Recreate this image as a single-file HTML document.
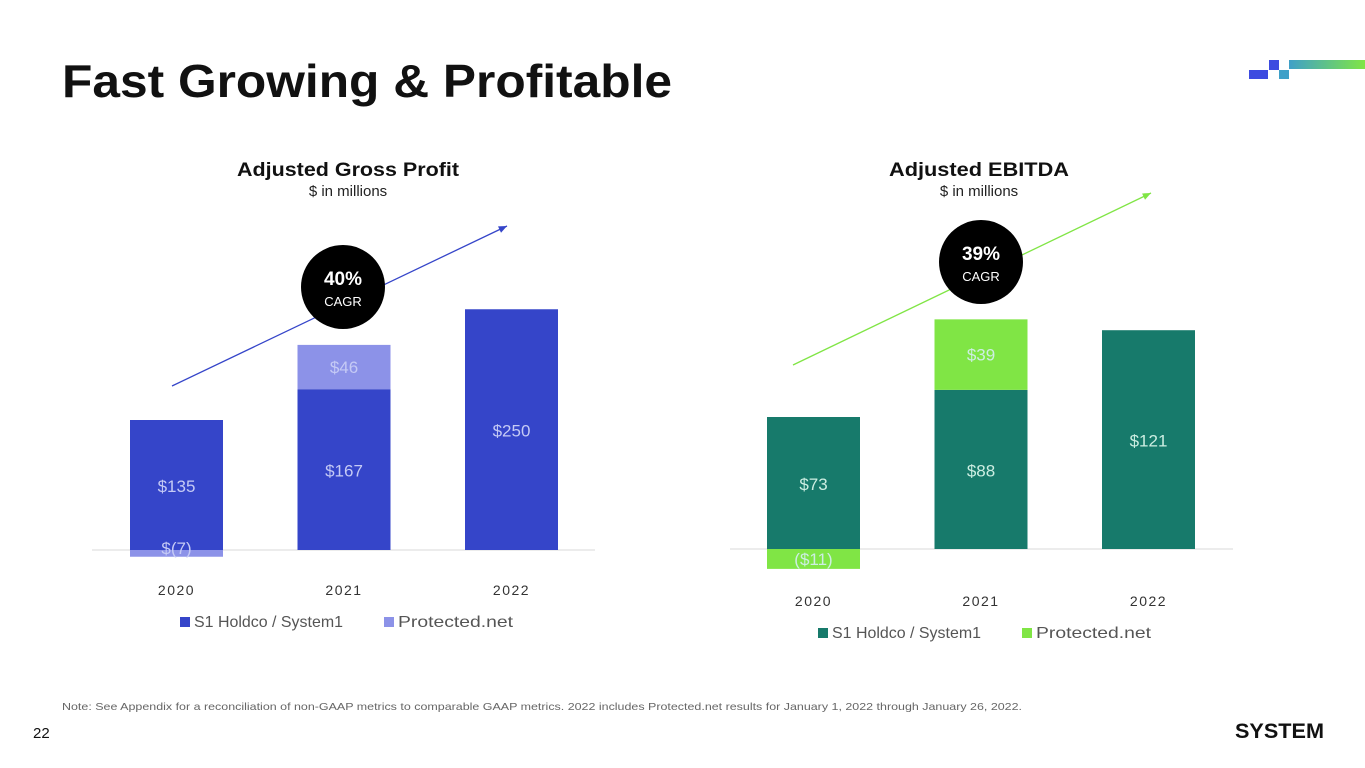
<!DOCTYPE html>
<html><head><meta charset="utf-8"><style>
html,body{margin:0;padding:0;background:#fff;}
svg{display:block;font-family:"Liberation Sans",sans-serif;}
</style></head><body>
<svg id="s" width="1365" height="768" viewBox="0 0 1365 768">
<text x="62" y="97" font-size="46" font-weight="bold" fill="#111" textLength="610" lengthAdjust="spacingAndGlyphs">Fast Growing &amp; Profitable</text>
<g>
<rect x="1249" y="70" width="19" height="9" fill="#3d4be0"/>
<rect x="1269" y="60" width="10" height="10" fill="#3d4be0"/>
<rect x="1279" y="70" width="10" height="9" fill="#3fa0c8"/>
<defs><linearGradient id="g1" x1="0" x2="1"><stop offset="0" stop-color="#3fa0c8"/><stop offset="1" stop-color="#80e545"/></linearGradient></defs>
<rect x="1289" y="60" width="76" height="9" fill="url(#g1)"/>
</g>
<text x="348" y="176" font-size="19" font-weight="bold" text-anchor="middle" fill="#111" textLength="222" lengthAdjust="spacingAndGlyphs">Adjusted Gross Profit</text>
<text x="348" y="196" font-size="15" text-anchor="middle" fill="#222">$ in millions</text>
<text x="979" y="176" font-size="19" font-weight="bold" text-anchor="middle" fill="#111" textLength="180" lengthAdjust="spacingAndGlyphs">Adjusted EBITDA</text>
<text x="979" y="196" font-size="15" text-anchor="middle" fill="#222">$ in millions</text>
<g id="c1"></g><g id="c2"></g>
<text x="62" y="710" font-size="10.5" fill="#666" textLength="960" lengthAdjust="spacingAndGlyphs">Note: See Appendix for a reconciliation of non-GAAP metrics to comparable GAAP metrics. 2022 includes Protected.net results for January 1, 2022 through January 26, 2022.</text>
<text x="33" y="738" font-size="15" fill="#111">22</text>
<text x="1235" y="738" font-size="21" font-weight="bold" fill="#111" textLength="89" lengthAdjust="spacingAndGlyphs">SYSTEM</text>
</svg>
<script>
const years = ["2020","2021","2022"];
const gpCore = [135,167,250];
const gpProt = [-7,46,0];
const gpCoreLabels = ["$135","$167","$250"];
const gpProtLabels = ["$(7)","$46",""];
const ebCore = [73,88,121];
const ebProt = [-11,39,0];
const ebCoreLabels = ["$73","$88","$121"];
const ebProtLabels = ["($11)","$39",""];
const NS="http://www.w3.org/2000/svg";
function mk(p,t,a){const e=document.createElementNS(NS,t);for(const k in a)e.setAttribute(k,a[k]);p.appendChild(e);return e;}
function chart(g,o){
  const y=v=>o.base-v*o.scale;
  const xC=i=>o.x0+i*o.step;
  const ax=mk(g,'line',{x1:o.ax0,x2:o.ax1,y1:o.base,y2:o.base,stroke:'#d8d8d8','stroke-width':1});
  
  
  years.forEach((yr,i)=>{
    const c=o.core[i], p=o.prot[i];
    const r=mk(g,'rect',{x:xC(i)-46.5,y:y(c),width:93,height:c*o.scale,fill:o.c1});
    
    
    if(p!==0){
      const top=p>0?y(c+p):o.base, h=Math.abs(p)*o.scale;
      const r2=mk(g,'rect',{x:xC(i)-46.5,y:top,width:93,height:h,fill:o.c2});
      
      
      const t2=mk(g,'text',{x:xC(i),y:p>0?top+h/2+6:o.base+o.negOff,'text-anchor':'middle','font-size':17,fill:o.tc});
      t2.textContent=o.pl[i];
      
      
    }
    const t=mk(g,'text',{x:xC(i),y:(y(c)+o.base)/2+7,'text-anchor':'middle','font-size':17,fill:o.tc});
    t.textContent=o.cl[i];
    
    
    const yl=mk(g,'text',{x:xC(i),y:o.yearY,'text-anchor':'middle','font-size':14,fill:'#333','letter-spacing':'1.5'});
    yl.textContent=yr;
    
    
  });
  const ar=mk(g,'line',{x1:o.a[0],y1:o.a[1],x2:o.a[2],y2:o.a[3],stroke:o.ac,'stroke-width':1.3});
  
  
  const ang=Math.atan2(o.a[3]-o.a[1],o.a[2]-o.a[0]);
  const hx=o.a[2],hy=o.a[3];
  const pts=[[hx,hy],[hx-9*Math.cos(ang-0.4),hy-9*Math.sin(ang-0.4)],[hx-9*Math.cos(ang+0.4),hy-9*Math.sin(ang+0.4)]].map(p=>p.join(',')).join(' ');
  const ah=mk(g,'polygon',{points:pts,fill:o.ac});
  
  
  const cc=mk(g,'circle',{cx:o.cc[0],cy:o.cc[1],r:42,fill:'#000'});
  
  
  const ct=mk(g,'text',{x:o.cc[0],y:o.cc[1]-2,'text-anchor':'middle','font-size':19,'font-weight':'bold',fill:'#fff'});
  ct.textContent=o.cagr;
  
  
  const cl=mk(g,'text',{x:o.cc[0],y:o.cc[1]+19,'text-anchor':'middle','font-size':13,fill:'#fff'});
  cl.textContent='CAGR';
  
  
  const lx=o.legX;
  const s1=mk(g,'rect',{x:lx,y:o.legY-10,width:10,height:10,fill:o.c1});
  
  
  const l1=mk(g,'text',{x:lx+14,y:o.legY,'font-size':16,fill:'#555',textLength:149,lengthAdjust:'spacingAndGlyphs'});
  l1.textContent='S1 Holdco / System1';
  
  
  const s2=mk(g,'rect',{x:lx+204,y:o.legY-10,width:10,height:10,fill:o.c2});
  
  
  const l2=mk(g,'text',{x:lx+218,y:o.legY,'font-size':16,fill:'#555',textLength:115,lengthAdjust:'spacingAndGlyphs'});
  l2.textContent='Protected.net';
  
  
}
chart(document.getElementById('c1'),{core:gpCore,prot:gpProt,cl:gpCoreLabels,pl:gpProtLabels,base:550,scale:130/135,x0:176.5,step:167.5,ax0:92,ax1:595,c1:'#3545c9',c2:'#8c92e8',tc:'#c5caf5',negOff:4,yearY:595,a:[172,386,507,226],ac:'#3545c9',cc:[343,287],cagr:'40%',legX:180,legY:627});
chart(document.getElementById('c2'),{core:ebCore,prot:ebProt,cl:ebCoreLabels,pl:ebProtLabels,base:549,scale:132/73,x0:813.5,step:167.5,ax0:730,ax1:1233,c1:'#177a6b',c2:'#80e545',tc:'#cdeee2',negOff:16,yearY:606,a:[793,365,1151,193],ac:'#80e545',cc:[981,262],cagr:'39%',legX:818,legY:638});
</script>
</body></html>
